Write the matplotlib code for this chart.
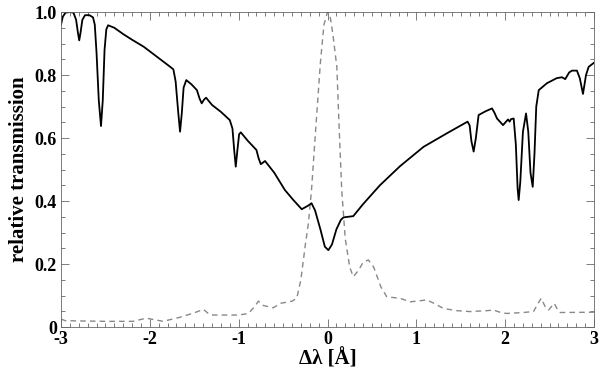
import numpy as np
import matplotlib
matplotlib.use("Agg")
import matplotlib.pyplot as plt
from matplotlib.ticker import MultipleLocator, FixedLocator, FixedFormatter

# solar spectrum (solid)
spec_x = [-3.00, -2.98, -2.95, -2.90, -2.86, -2.83, -2.81, -2.795, -2.78, -2.76,
          -2.73, -2.68, -2.64, -2.62, -2.60, -2.575, -2.55, -2.53, -2.51, -2.49,
          -2.47, -2.40, -2.30, -2.20, -2.07, -1.92, -1.78, -1.735, -1.71, -1.68,
          -1.66, -1.64, -1.62, -1.59, -1.53, -1.47, -1.44, -1.416, -1.39, -1.367,
          -1.30, -1.20, -1.10, -1.07, -1.05, -1.033, -1.015, -0.995, -0.976, -0.90,
          -0.80, -0.775, -0.751, -0.703, -0.60, -0.48, -0.384, -0.29, -0.22, -0.18,
          -0.14, -0.08, -0.03, 0.01, 0.05, 0.10, 0.15, 0.18, 0.29, 0.40,
          0.59, 0.818, 1.081, 1.344, 1.577, 1.60, 1.62, 1.645, 1.67, 1.701,
          1.78, 1.852, 1.88, 1.908, 1.976, 2.032, 2.05, 2.066, 2.096, 2.12,
          2.14, 2.152, 2.17, 2.20, 2.235, 2.26, 2.285, 2.31, 2.33, 2.35,
          2.378, 2.47, 2.58, 2.639, 2.676, 2.72, 2.752, 2.808, 2.84, 2.876,
          2.91, 2.94, 3.00]
spec_y = [0.960, 0.985, 0.998, 1.000, 0.998, 0.975, 0.935, 0.910, 0.935, 0.975,
          0.990, 0.990, 0.983, 0.960, 0.870, 0.720, 0.638, 0.720, 0.880, 0.945,
          0.958, 0.950, 0.930, 0.912, 0.890, 0.858, 0.828, 0.818, 0.780, 0.680,
          0.620, 0.680, 0.760, 0.784, 0.770, 0.752, 0.725, 0.710, 0.722, 0.728,
          0.705, 0.683, 0.657, 0.630, 0.560, 0.509, 0.560, 0.612, 0.618, 0.592,
          0.562, 0.535, 0.517, 0.527, 0.490, 0.435, 0.403, 0.374, 0.385, 0.393,
          0.370, 0.310, 0.255, 0.244, 0.262, 0.310, 0.340, 0.348, 0.352, 0.390,
          0.450, 0.511, 0.572, 0.615, 0.652, 0.640, 0.590, 0.557, 0.600, 0.673,
          0.685, 0.694, 0.680, 0.662, 0.641, 0.659, 0.652, 0.660, 0.662, 0.580,
          0.440, 0.403, 0.460, 0.620, 0.678, 0.620, 0.490, 0.445, 0.550, 0.700,
          0.752, 0.774, 0.790, 0.793, 0.787, 0.808, 0.814, 0.814, 0.790, 0.740,
          0.800, 0.826, 0.839]

# filter transmission profile (dashed)
filt_x = [-3.0, -2.95, -2.5, -2.19, -2.04, -1.85, -1.66, -1.50, -1.397, -1.33,
          -1.285, -1.0, -0.89, -0.82, -0.778, -0.72, -0.61, -0.534, -0.40, -0.346,
          -0.30, -0.25, -0.215, -0.18, -0.13, -0.08, -0.04, 0.0, 0.03, 0.06,
          0.105, 0.13, 0.16, 0.20, 0.25, 0.29, 0.35, 0.40, 0.46, 0.52,
          0.60, 0.667, 0.818, 0.93, 1.00, 1.118, 1.20, 1.305, 1.45, 1.606,
          1.80, 1.868, 1.95, 2.019, 2.20, 2.319, 2.36, 2.405, 2.45, 2.488,
          2.552, 2.59, 2.62, 3.0]
filt_y = [0.025, 0.020, 0.018, 0.018, 0.028, 0.018, 0.031, 0.045, 0.056, 0.040,
          0.038, 0.038, 0.043, 0.065, 0.082, 0.068, 0.061, 0.075, 0.082, 0.091,
          0.150, 0.260, 0.330, 0.435, 0.640, 0.840, 0.960, 1.000, 0.985, 0.930,
          0.826, 0.640, 0.435, 0.280, 0.190, 0.160, 0.180, 0.205, 0.213, 0.190,
          0.128, 0.096, 0.091, 0.080, 0.082, 0.086, 0.075, 0.059, 0.052, 0.049,
          0.052, 0.054, 0.046, 0.043, 0.046, 0.049, 0.070, 0.091, 0.065, 0.054,
          0.075, 0.055, 0.046, 0.047]

xticks = [-3, -2, -1, 0, 1, 2, 3]
xtick_labels = ["-3", "-2", "-1", "0", "1", "2", "3"]
yticks = [0, 0.2, 0.4, 0.6, 0.8, 1.0]
ytick_labels = ["0", "0.2", "0.4", "0.6", "0.8", "1.0"]

plt.rcParams["font.family"] = ["Liberation Serif", "DejaVu Serif"]
plt.rcParams["font.weight"] = "bold"

fig = plt.figure(figsize=(6, 3.76), dpi=100)
ax = fig.add_axes([0.1017, 0.1303, 0.8883, 0.8377])

ax.plot(filt_x, filt_y, color="#888888", lw=1.0, ls=(0, (4, 3)))
ax.plot(spec_x, spec_y, color="black", lw=1.3)

ax.set_xlim(-3, 3)
ax.set_ylim(0, 1.0)
ax.xaxis.set_major_locator(FixedLocator(xticks))
ax.xaxis.set_major_formatter(FixedFormatter(xtick_labels))
ax.yaxis.set_major_locator(FixedLocator(yticks))
ax.yaxis.set_major_formatter(FixedFormatter(ytick_labels))
ax.xaxis.set_minor_locator(MultipleLocator(0.1))
ax.yaxis.set_minor_locator(MultipleLocator(0.05))
ax.tick_params(which="both", direction="in", top=True, right=True,
               color="#666666", width=0.6, labelsize=13, pad=3)
ax.tick_params(which="major", length=6)
ax.tick_params(which="minor", length=3)
for lab in ax.get_xticklabels() + ax.get_yticklabels():
    lab.set_fontweight("bold")
for sp in ax.spines.values():
    sp.set_color("#666666")
    sp.set_linewidth(0.6)

ax.set_xlabel("Δλ [Å]", fontsize=15, fontweight="bold", labelpad=1)
ax.set_ylabel("relative transmission", fontsize=15, fontweight="bold", labelpad=4)

fig.savefig("out.png", dpi=100)
